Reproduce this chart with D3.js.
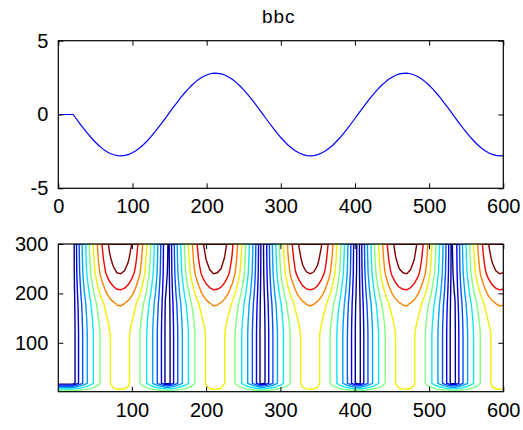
<!DOCTYPE html>
<html>
<head>
<meta charset="utf-8">
<script src="https://cdn.jsdelivr.net/npm/d3@7/dist/d3.min.js"></script>
<style>
  body { margin: 0; background: #fff; }
  text { font-family: 'Liberation Sans', Arial, sans-serif; fill: #000; }
</style>
</head>
<body>
<svg id="chart" width="523" height="430"></svg>
<script>
// top trace, read every 5 samples (x = 0..600)
const signalX = d3.range(0, 601, 5)
const signalY = [
  0, 0, 0, 0, 0,
  -0.34, -0.68, -1.01, -1.32, -1.61, -1.88, -2.12, -2.33, -2.50, -2.64, -2.73, -2.79, -2.80, -2.77, -2.70, -2.59,
  -2.44, -2.25, -2.03, -1.78, -1.50, -1.20, -0.88, -0.55, -0.21, 0.14, 0.48, 0.81, 1.14, 1.44, 1.72, 1.98,
  2.21, 2.40, 2.56, 2.68, 2.76, 2.80, 2.79, 2.75, 2.66, 2.53, 2.37, 2.16, 1.93, 1.67, 1.38, 1.07,
  0.75, 0.41, 0.07, -0.27, -0.61, -0.94, -1.26, -1.56, -1.83, -2.08, -2.29, -2.47, -2.61, -2.72, -2.78, -2.80,
  -2.78, -2.72, -2.61, -2.47, -2.29, -2.08, -1.83, -1.56, -1.26, -0.94, -0.61, -0.27, 0.07, 0.41, 0.75, 1.07,
  1.38, 1.67, 1.93, 2.16, 2.37, 2.53, 2.66, 2.75, 2.79, 2.80, 2.76, 2.68, 2.56, 2.40, 2.21, 1.98,
  1.72, 1.44, 1.14, 0.81, 0.48, 0.14, -0.21, -0.55, -0.88, -1.20, -1.50, -1.78, -2.03, -2.25, -2.44, -2.59,
  -2.70, -2.77, -2.80, -2.79
]

// lower panel: rows of the field (y) and how strongly each row lifts the envelope
const rowY = [1, 18, 60, 110, 120, 130, 140, 150, 160, 170, 180, 190, 200, 210, 220, 230, 240, 250, 260, 270, 280, 290, 300]
const rowGain = [0, 1, 1, 1, 1.003, 1.012, 1.025, 1.042, 1.062, 1.085, 1.11, 1.16, 1.21, 1.255, 1.30, 1.345, 1.39, 1.415, 1.435, 1.455, 1.47, 1.485, 1.5]
const bottomRowValue = 2.6

// contour levels and their colours
const levels = [0.24, 0.56, 0.93, 1.32, 1.78, 2.21, 2.66, 3.07, 3.48, 3.89]
const levelColors = ['#00008f', '#0000ee', '#0050ff', '#00a0ff', '#10e8f0', '#80ff80', '#f0f000', '#ff8000', '#f00000', '#800000']

// ticks
const topTicksX = [0, 100, 200, 300, 400, 500, 600]
const topTicksY = [-5, 0, 5]
const lowTicksX = [100, 200, 300, 400, 500, 600]
const lowTicksY = [100, 200, 300]

const svg = d3.select('#chart')
const left = 58.3
const right = 503.3
const tick = 5
const fontSize = '20px'

// ---- top panel ----
const top1 = 40.7
const bot1 = 188.3
const x1 = d3.scaleLinear().domain([0, 600]).range([left, right])
const y1 = d3.scaleLinear().domain([-5, 5]).range([bot1, top1])

const g1 = svg.append('g')

g1.append('text')
  .attr('x', (left + right) / 2 - 2)
  .attr('y', 23)
  .attr('text-anchor', 'middle')
  .attr('font-size', '19px')
  .attr('letter-spacing', '1px')
  .text('bbc')

g1.append('path')
  .datum(signalX.map((x, i) => [x, signalY[i]]))
  .attr('fill', 'none')
  .attr('stroke', '#0000ff')
  .attr('stroke-width', 1.2)
  .attr('d', d3.line().x(d => x1(d[0])).y(d => y1(d[1])))

// axes with inward ticks on all sides
const drawAxes = (g, xs, ys, xt, yt, top, bot) => {
  const fmt = d => String(d)
  g.append('g')
    .attr('transform', `translate(0,${bot})`)
    .call(d3.axisBottom(xs).tickValues(xt).tickFormat(fmt).tickSizeInner(-tick).tickSizeOuter(0).tickPadding(11))
  g.append('g')
    .attr('transform', `translate(0,${top})`)
    .call(d3.axisTop(xs).tickValues(xt).tickSizeInner(-tick).tickSizeOuter(0).tickFormat(''))
  g.append('g')
    .attr('transform', `translate(${left},0)`)
    .call(d3.axisLeft(ys).tickValues(yt).tickFormat(fmt).tickSizeInner(-tick).tickSizeOuter(0).tickPadding(10))
  g.append('g')
    .attr('transform', `translate(${right},0)`)
    .call(d3.axisRight(ys).tickValues(yt).tickSizeInner(-tick).tickSizeOuter(0).tickFormat(''))

  g.selectAll('.domain').remove()
  g.selectAll('.tick line').attr('stroke', '#000')
  g.selectAll('.tick text')
    .attr('font-size', fontSize)
    .attr('font-family', "'Liberation Sans', Arial, sans-serif")
    .attr('fill', '#111')

  g.append('rect')
    .attr('x', left)
    .attr('y', top)
    .attr('width', right - left)
    .attr('height', bot - top)
    .attr('fill', 'none')
    .attr('stroke', '#000')
    .attr('stroke-width', 1.2)
}

drawAxes(g1, x1, y1, topTicksX, topTicksY, top1, bot1)

// ---- lower panel: contour ----
const top2 = 244
const bot2 = 391.7
const x2 = d3.scaleLinear().domain([1, 600]).range([left, right])
const y2 = d3.scaleLinear().domain([1, 300]).range([bot2, top2])

const nx = signalX.length
const ny = rowY.length
const values = new Array(nx * ny)
for (let r = 0; r < ny; r++) {
  for (let c = 0; c < nx; c++) {
    values[r * nx + c] = r === 0 ? bottomRowValue : Math.abs(signalY[c]) * rowGain[r]
  }
}

// grid coordinate -> data coordinate (sample i sits at i + 0.5)
const colToX = d3.scaleLinear().domain([0, nx - 1]).range([signalX[0], signalX[nx - 1]])
const rowToY = d3.scaleLinear().domain(d3.range(ny)).range(rowY).clamp(true)

const contours = d3.contours().size([nx, ny]).thresholds(levels)(values)

svg.append('clipPath')
  .attr('id', 'clip2')
  .append('rect')
  .attr('x', left)
  .attr('y', top2)
  .attr('width', right - left)
  .attr('height', bot2 - top2)

const g2 = svg.append('g')
const lineGen = d3.line()
  .x(p => x2(colToX(p[0] - 0.5)))
  .y(p => y2(rowToY(p[1] - 0.5)))

g2.append('g')
  .attr('clip-path', 'url(#clip2)')
  .selectAll('path')
  .data(contours)
  .enter()
  .append('path')
  .attr('fill', 'none')
  .attr('stroke', d => levelColors[levels.indexOf(d.value)])
  .attr('stroke-width', 1.4)
  .attr('d', d => d.coordinates.map(poly => poly.map(ring => lineGen(ring)).join('')).join(''))

drawAxes(g2, x2, y2, lowTicksX, lowTicksY, top2, bot2)
</script>
</body>
</html>
